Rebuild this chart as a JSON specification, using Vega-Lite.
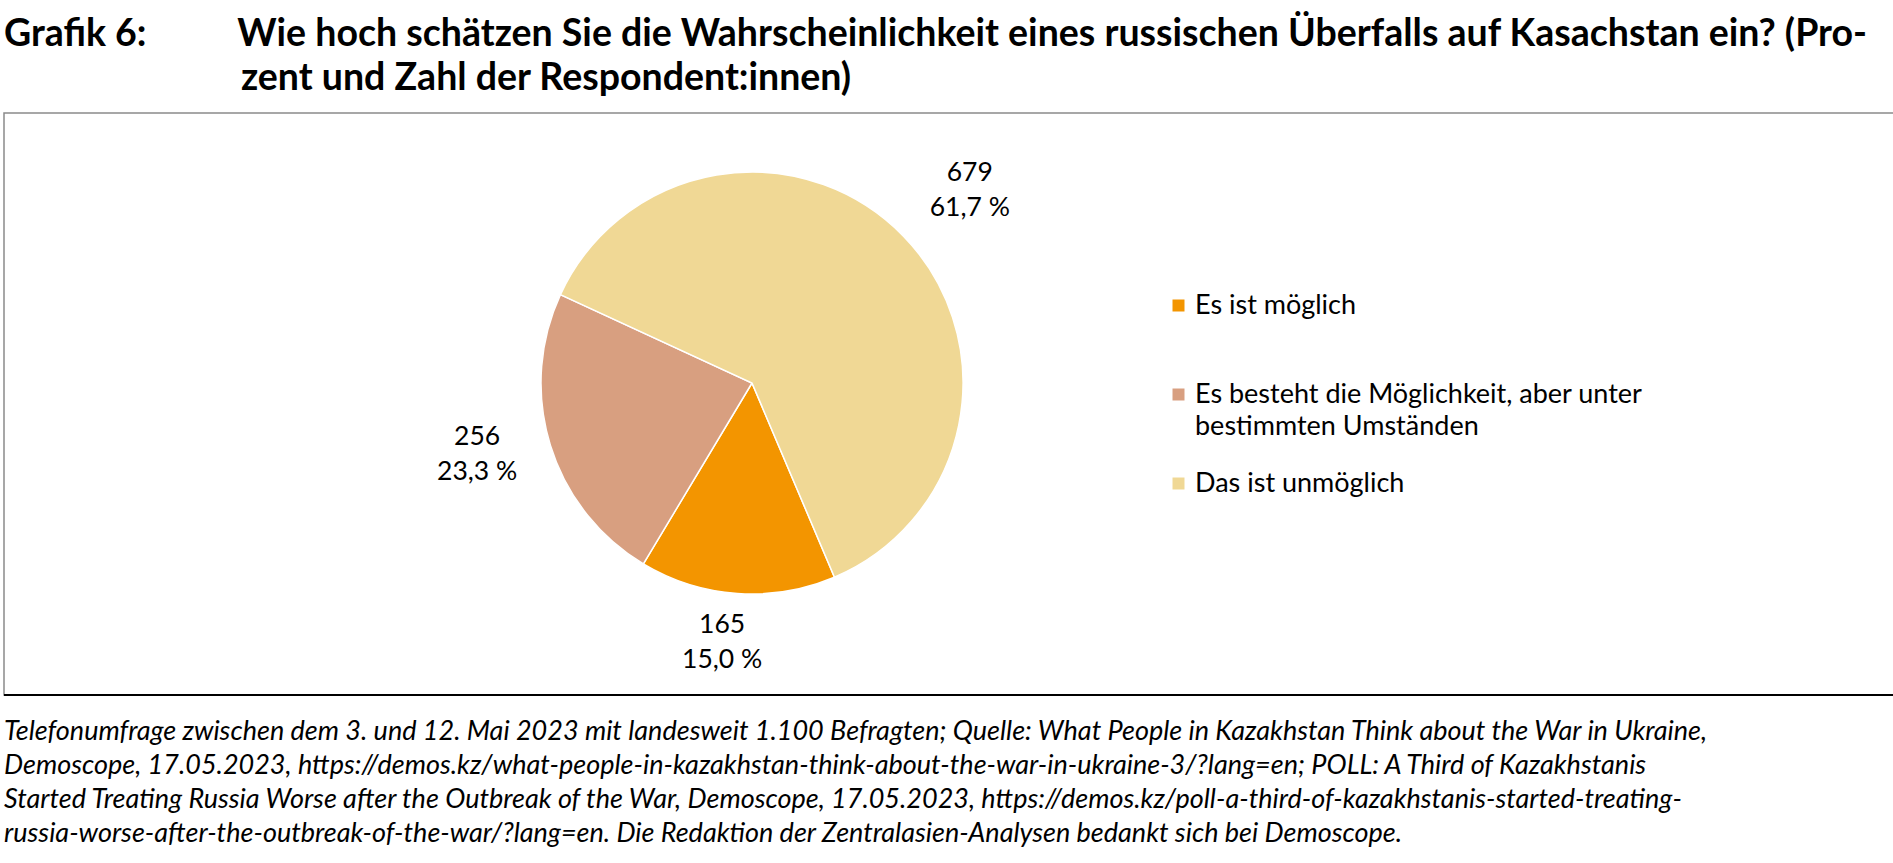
{
  "$schema": "https://vega.github.io/schema/vega-lite/v6.json",
  "background": "white",
  "padding": {"left": 2, "right": 1, "top": 16, "bottom": 0},
  "title": {
    "text": [
      "Grafik 6:\u00a0\u00a0\u00a0\u00a0\u00a0\u00a0\u00a0\u00a0\u00a0\u00a0Wie hoch schätzen Sie die Wahrscheinlichkeit eines russischen Überfalls auf Kasachstan ein? (Pro-",
      "\u2060\u00a0\u00a0\u00a0\u00a0\u00a0\u00a0\u00a0\u00a0\u00a0\u00a0\u00a0\u00a0\u00a0\u00a0\u00a0\u00a0\u00a0\u00a0\u00a0\u00a0\u00a0\u00a0\u00a0\u00a0\u00a0\u00a0zent und Zahl der Respondent:innen)"
    ],
    "anchor": "start",
    "frame": "group",
    "font": "Lato",
    "fontSize": 37.5,
    "fontWeight": "bold",
    "color": "#000000",
    "lineHeight": 43.5,
    "baseline": "top",
    "offset": 15
  },
  "datasets": {
    "answers": [
      {"cat": "Es ist möglich", "n": 165, "o": 1, "label": ["165", "15,0 %"]},
      {"cat": "Es besteht die Möglichkeit, aber unter bestimmten Umständen", "n": 256, "o": 2, "label": ["256", "23,3 %"]},
      {"cat": "Das ist unmöglich", "n": 679, "o": 3, "label": ["679", "61,7 %"]}
    ]
  },
  "vconcat": [
    {
      "width": 1890,
      "height": 582,
      "title": {
        "text": [
          "Telefonumfrage zwischen dem 3. und 12. Mai 2023 mit landesweit 1.100 Befragten; Quelle: What People in Kazakhstan Think about the War in Ukraine,",
          "Demoscope, 17.05.2023, https://demos.kz/what-people-in-kazakhstan-think-about-the-war-in-ukraine-3/?lang=en; POLL: A Third of Kazakhstanis",
          "Started Treating Russia Worse after the Outbreak of the War, Demoscope, 17.05.2023, https://demos.kz/poll-a-third-of-kazakhstanis-started-treating-",
          "russia-worse-after-the-outbreak-of-the-war/?lang=en. Die Redaktion der Zentralasien-Analysen bedankt sich bei Demoscope."
        ],
        "orient": "bottom",
        "anchor": "start",
        "frame": "group",
        "font": "Lato",
        "fontSize": 27,
        "fontStyle": "italic",
        "fontWeight": "normal",
        "color": "#000000",
        "lineHeight": 34,
        "baseline": "top",
        "offset": 23
      },
      "data": {"name": "answers"},
      "resolve": {"scale": {"theta": "independent"}},
      "layer": [
        {
          "mark": {"type": "arc", "x": 748, "y": 270, "radius": 211, "stroke": "white", "strokeWidth": 1.5},
          "encoding": {
            "theta": {"field": "n", "type": "quantitative", "stack": true, "scale": {"range": [2.740, 9.0232]}},
            "order": {"field": "o", "type": "quantitative"},
            "color": {
              "field": "cat",
              "type": "nominal",
              "scale": {
                "domain": ["Es ist möglich", "Es besteht die Möglichkeit, aber unter bestimmten Umständen", "Das ist unmöglich"],
                "range": ["#F39500", "#D89F80", "#F0D895"]
              },
              "legend": {
                "orient": "none",
                "legendX": 1161,
                "legendY": 179,
                "title": null,
                "padding": 0,
                "symbolType": "square",
                "symbolSize": 144,
                "symbolStrokeWidth": 0,
                "labelFont": "Lato",
                "labelFontSize": 27,
                "labelColor": "#000000",
                "labelOffset": 3,
                "labelLimit": 1200,
                "rowPadding": 29,
                "labelExpr": "datum.label === 'Es besteht die Möglichkeit, aber unter bestimmten Umständen' ? ['Es besteht die Möglichkeit, aber unter', 'bestimmten Umständen'] : datum.label === 'Es ist möglich' ? ['Es ist möglich', ''] : datum.label"
              }
            }
          }
        },
        {
          "mark": {"type": "text", "x": 748, "y": 270, "font": "Lato", "fontSize": 26.5, "lineHeight": 35, "align": "center", "baseline": "middle", "dy": -17.5, "fill": "#000000"},
          "encoding": {
            "theta": {"field": "n", "type": "quantitative", "stack": true, "scale": {"range": [2.785, 9.0682]}},
            "radius": {"field": "n", "type": "quantitative", "scale": {"type": "linear", "zero": false, "domain": [165, 256, 679], "range": [261, 284, 291]}},
            "order": {"field": "o", "type": "quantitative"},
            "detail": {"field": "cat", "type": "nominal"},
            "text": {"field": "label", "type": "nominal"}
          }
        },
        {
          "data": {"values": [{}]},
          "mark": {"type": "rule", "color": "#000000", "strokeWidth": 2},
          "encoding": {
            "y": {"datum": 0, "type": "quantitative", "scale": {"domain": [0, 1]}, "axis": null}
          }
        }
      ]
    }
  ],
  "config": {
    "font": "Lato",
    "view": {"stroke": "#8a8a8a", "strokeWidth": 1.5},
    "style": {"guide-label": {"lineHeight": 32.5}}
  }
}
